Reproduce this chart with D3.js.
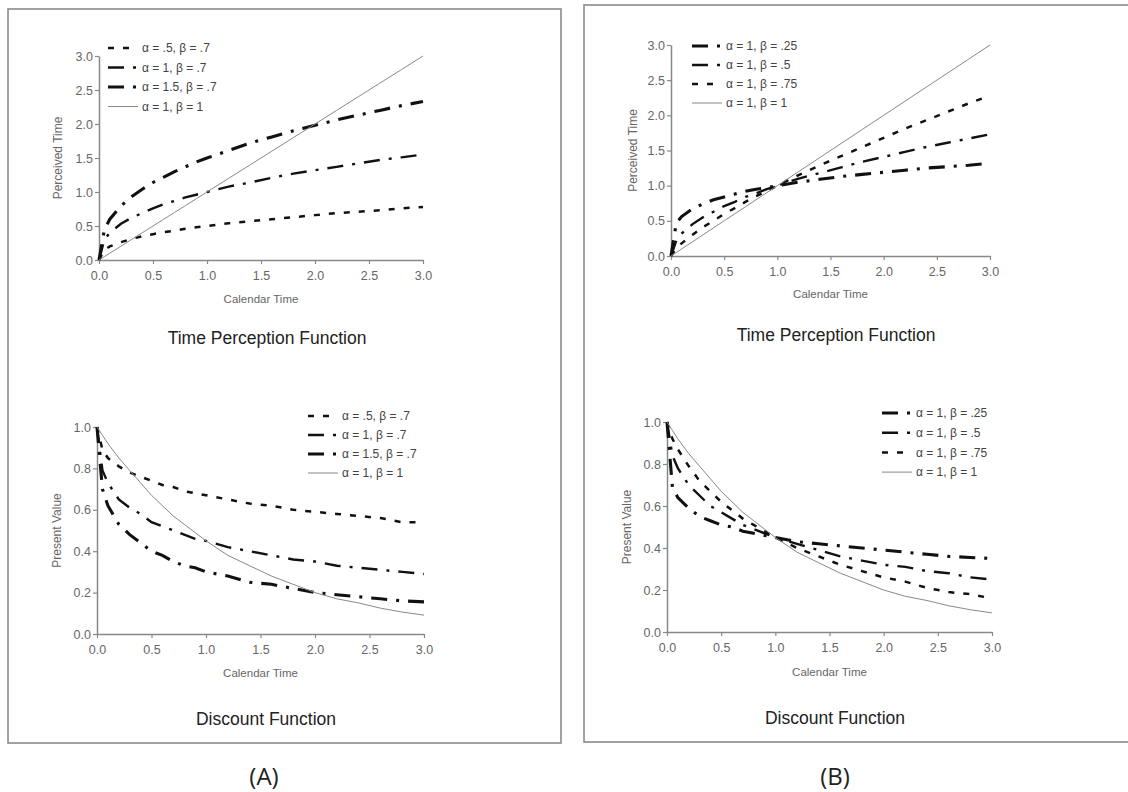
<!DOCTYPE html>
<html>
<head>
<meta charset="utf-8">
<script src="https://cdn.jsdelivr.net/npm/d3@7"></script>
<style>
  body { margin: 0; background: #fff; }
  svg { display: block; }
  text { font-family: "Liberation Sans", Arial, sans-serif; }
</style>
</head>
<body>
<svg id="fig" width="1128" height="792"></svg>
<script>
// calendar time sample points (shared by every series)
var calTime = [0, 0.05, 0.1, 0.2, 0.3, 0.4, 0.5, 0.6, 0.7, 0.8, 0.9, 1.0, 1.2, 1.4, 1.6, 1.8, 2.0, 2.2, 2.4, 2.6, 2.8, 3.0];

// panel A : beta = .7, alpha varies
var percA_a05 = [0, 0.15, 0.2, 0.26, 0.31, 0.35, 0.38, 0.41, 0.43, 0.46, 0.48, 0.5, 0.54, 0.57, 0.6, 0.63, 0.66, 0.69, 0.71, 0.73, 0.76, 0.78];
var percA_a1  = [0, 0.3, 0.4, 0.53, 0.62, 0.69, 0.76, 0.82, 0.87, 0.92, 0.96, 1.0, 1.08, 1.14, 1.21, 1.27, 1.32, 1.37, 1.42, 1.47, 1.51, 1.55];
var percA_a15 = [0, 0.45, 0.6, 0.79, 0.93, 1.04, 1.14, 1.22, 1.3, 1.37, 1.44, 1.5, 1.61, 1.72, 1.81, 1.9, 1.98, 2.06, 2.13, 2.2, 2.27, 2.33];
var percLinear = [0, 0.05, 0.1, 0.2, 0.3, 0.4, 0.5, 0.6, 0.7, 0.8, 0.9, 1.0, 1.2, 1.4, 1.6, 1.8, 2.0, 2.2, 2.4, 2.6, 2.8, 3.0];

var discA_a05 = [1, 0.89, 0.85, 0.81, 0.78, 0.76, 0.74, 0.72, 0.71, 0.69, 0.68, 0.67, 0.65, 0.63, 0.62, 0.6, 0.59, 0.58, 0.57, 0.56, 0.54, 0.54];
var discA_a1  = [1, 0.79, 0.73, 0.65, 0.61, 0.58, 0.54, 0.52, 0.5, 0.48, 0.46, 0.45, 0.42, 0.4, 0.38, 0.36, 0.35, 0.33, 0.32, 0.31, 0.3, 0.29];
var discA_a15 = [1, 0.7, 0.62, 0.53, 0.48, 0.44, 0.4, 0.38, 0.35, 0.33, 0.32, 0.3, 0.28, 0.25, 0.24, 0.22, 0.2, 0.19, 0.18, 0.17, 0.16, 0.155];
var discLinear = [1, 0.96, 0.92, 0.85, 0.79, 0.73, 0.67, 0.62, 0.57, 0.53, 0.49, 0.45, 0.38, 0.33, 0.28, 0.24, 0.2, 0.17, 0.15, 0.125, 0.106, 0.091];

// panel B : alpha = 1, beta varies
var percB_b25 = [0, 0.47, 0.56, 0.67, 0.74, 0.8, 0.84, 0.88, 0.92, 0.95, 0.97, 1.0, 1.05, 1.09, 1.13, 1.16, 1.19, 1.22, 1.25, 1.27, 1.29, 1.32];
var percB_b5  = [0, 0.22, 0.32, 0.45, 0.55, 0.63, 0.71, 0.77, 0.84, 0.89, 0.95, 1.0, 1.1, 1.18, 1.26, 1.34, 1.41, 1.48, 1.55, 1.61, 1.67, 1.73];
var percB_b75 = [0, 0.11, 0.18, 0.3, 0.41, 0.5, 0.6, 0.68, 0.77, 0.85, 0.92, 1.0, 1.15, 1.29, 1.42, 1.55, 1.68, 1.81, 1.93, 2.05, 2.17, 2.28];

var discB_b25 = [1, 0.69, 0.64, 0.59, 0.55, 0.53, 0.51, 0.5, 0.48, 0.47, 0.46, 0.45, 0.43, 0.42, 0.41, 0.4, 0.39, 0.38, 0.37, 0.36, 0.355, 0.35];
var discB_b5  = [1, 0.84, 0.78, 0.7, 0.65, 0.6, 0.57, 0.54, 0.51, 0.49, 0.47, 0.45, 0.42, 0.39, 0.36, 0.34, 0.32, 0.31, 0.29, 0.28, 0.26, 0.25];
var discB_b75 = [1, 0.92, 0.87, 0.79, 0.72, 0.67, 0.62, 0.58, 0.54, 0.51, 0.48, 0.45, 0.4, 0.36, 0.32, 0.29, 0.26, 0.24, 0.21, 0.19, 0.18, 0.16];

// legend labels
var labelsA = ["\u03b1 = .5, \u03b2 = .7", "\u03b1 = 1, \u03b2 = .7", "\u03b1 = 1.5, \u03b2 = .7", "\u03b1 = 1, \u03b2 = 1"];
var labelsB = ["\u03b1 = 1, \u03b2 = .25", "\u03b1 = 1, \u03b2 = .5", "\u03b1 = 1, \u03b2 = .75", "\u03b1 = 1, \u03b2 = 1"];

var xTicks = [0, 0.5, 1, 1.5, 2, 2.5, 3];
var yTicksPerc = [0, 0.5, 1, 1.5, 2, 2.5, 3];
var yTicksDisc = [0, 0.2, 0.4, 0.6, 0.8, 1];

// line styles
var stShort   = {dash: "6,9", w: 2.5, c: "#111"};
var stDashDot = {dash: "16,9,3,9", w: 2.4, c: "#111"};
var stHeavy   = {dash: "16,9,3,9", w: 3.1, c: "#111"};
var stSolid   = {dash: null, w: 1, c: "#888"};

var svg = d3.select("#fig");
var fmt = d3.format(".1f");

// panel frames
svg.append("rect").attr("x", 8).attr("y", 9).attr("width", 553).attr("height", 734)
  .attr("fill", "none").attr("stroke", "#8a8a8a").attr("stroke-width", 1.6);
svg.append("rect").attr("x", 584).attr("y", 5).attr("width", 546).attr("height", 737)
  .attr("fill", "none").attr("stroke", "#8a8a8a").attr("stroke-width", 1.6);

function drawChart(cfg) {
  var x = d3.scaleLinear().domain([0, 3]).range([cfg.x0, cfg.x1]);
  var y = d3.scaleLinear().domain([0, cfg.ymax]).range([cfg.y0, cfg.y1]);
  var g = svg.append("g");

  var xAxis = g.append("g").attr("transform", "translate(0," + cfg.y0 + ")")
    .call(d3.axisBottom(x).tickValues(xTicks).tickFormat(fmt).tickSize(4).tickSizeOuter(0));
  var yAxis = g.append("g").attr("transform", "translate(" + cfg.x0 + ",0)")
    .call(d3.axisLeft(y).tickValues(cfg.yTicks).tickFormat(fmt).tickSize(4).tickSizeOuter(0));
  [xAxis, yAxis].forEach(function (a) {
    a.select(".domain").attr("stroke", "#888").attr("stroke-width", 1.5);
    a.selectAll(".tick line").attr("stroke", "#888").attr("stroke-width", 1.2);
    a.selectAll(".tick text").attr("fill", "#666").style("font-size", "12.5px")
      .style("font-family", "'Liberation Sans', Arial, sans-serif");
  });
  xAxis.selectAll(".tick text").attr("dy", "1em");
  yAxis.selectAll(".tick text").attr("x", -6);

  var line = d3.line().x(function (d) { return x(d[0]); }).y(function (d) { return y(d[1]); });

  cfg.series.forEach(function (s) {
    var pts = calTime.map(function (t, i) { return [t, s.vals[i]]; });
    g.append("path").datum(pts).attr("d", line)
      .attr("fill", "none").attr("stroke", s.st.c).attr("stroke-width", s.st.w)
      .attr("stroke-dasharray", s.st.dash);
  });

  // legend
  cfg.series.forEach(function (s, i) {
    var ly = cfg.legY + i * cfg.legStep;
    g.append("line").attr("x1", cfg.legX).attr("x2", cfg.legX + cfg.legLen)
      .attr("y1", ly).attr("y2", ly)
      .attr("stroke", s.st.c).attr("stroke-width", s.st.w).attr("stroke-dasharray", s.st.dash);
    g.append("text").attr("x", cfg.legX + cfg.legLen + 4).attr("y", ly).attr("dy", "0.35em")
      .attr("fill", "#444").style("font-size", "12px").text(s.label);
  });

  g.append("text").attr("x", (cfg.x0 + cfg.x1) / 2).attr("y", cfg.xLabY)
    .attr("text-anchor", "middle").attr("fill", "#666").style("font-size", "11.5px").text("Calendar Time");
  g.append("text").attr("transform", "translate(" + cfg.yLabX + "," + ((cfg.y0 + cfg.y1) / 2) + ") rotate(-90)")
    .attr("text-anchor", "middle").attr("fill", "#666").style("font-size", "12px").text(cfg.yLabel);
  g.append("text").attr("x", cfg.titleX).attr("y", cfg.titleY)
    .attr("text-anchor", "middle").attr("fill", "#222").style("font-size", "17.5px").text(cfg.title);
}

drawChart({
  x0: 99, x1: 423, y0: 260, y1: 56, ymax: 3, yTicks: yTicksPerc,
  yLabel: "Perceived Time", yLabX: 62, xLabY: 303,
  title: "Time Perception Function", titleX: 267, titleY: 344,
  legX: 108, legY: 48, legStep: 19.5, legLen: 30,
  series: [
    {vals: percA_a05, st: stShort, label: labelsA[0]},
    {vals: percA_a1, st: stDashDot, label: labelsA[1]},
    {vals: percA_a15, st: stHeavy, label: labelsA[2]},
    {vals: percLinear, st: stSolid, label: labelsA[3]}
  ]
});

drawChart({
  x0: 97, x1: 424, y0: 634, y1: 427, ymax: 1, yTicks: yTicksDisc,
  yLabel: "Present Value", yLabX: 61, xLabY: 677,
  title: "Discount Function", titleX: 266, titleY: 725,
  legX: 308, legY: 416, legStep: 19, legLen: 30,
  series: [
    {vals: discA_a05, st: stShort, label: labelsA[0]},
    {vals: discA_a1, st: stDashDot, label: labelsA[1]},
    {vals: discA_a15, st: stHeavy, label: labelsA[2]},
    {vals: discLinear, st: stSolid, label: labelsA[3]}
  ]
});

drawChart({
  x0: 671, x1: 990, y0: 256, y1: 45, ymax: 3, yTicks: yTicksPerc,
  yLabel: "Perceived Time", yLabX: 637, xLabY: 298,
  title: "Time Perception Function", titleX: 836, titleY: 341,
  legX: 692, legY: 46, legStep: 19, legLen: 30,
  series: [
    {vals: percB_b25, st: stHeavy, label: labelsB[0]},
    {vals: percB_b5, st: stDashDot, label: labelsB[1]},
    {vals: percB_b75, st: stShort, label: labelsB[2]},
    {vals: percLinear, st: stSolid, label: labelsB[3]}
  ]
});

drawChart({
  x0: 667, x1: 992, y0: 632, y1: 422, ymax: 1, yTicks: yTicksDisc,
  yLabel: "Present Value", yLabX: 631, xLabY: 676,
  title: "Discount Function", titleX: 835, titleY: 724,
  legX: 882, legY: 413, legStep: 19.7, legLen: 30,
  series: [
    {vals: discB_b25, st: stHeavy, label: labelsB[0]},
    {vals: discB_b5, st: stDashDot, label: labelsB[1]},
    {vals: discB_b75, st: stShort, label: labelsB[2]},
    {vals: discLinear, st: stSolid, label: labelsB[3]}
  ]
});

// panel captions
svg.append("text").attr("x", 264).attr("y", 785).attr("text-anchor", "middle")
  .attr("fill", "#222").style("font-size", "24px").style("font-family", "'Open Sans', sans-serif").text("(A)");
svg.append("text").attr("x", 835).attr("y", 785).attr("text-anchor", "middle")
  .attr("fill", "#222").style("font-size", "24px").style("font-family", "'Open Sans', sans-serif").text("(B)");
</script>
</body>
</html>
